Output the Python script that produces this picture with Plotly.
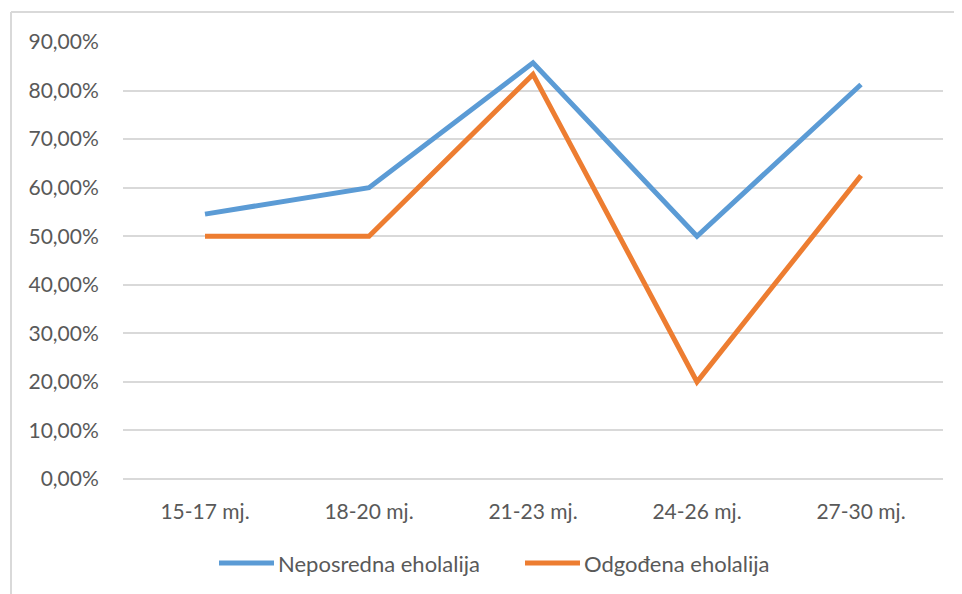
import plotly.graph_objects as go

categories = ["15-17 mj.", "18-20 mj.", "21-23 mj.", "24-26 mj.", "27-30 mj."]
neposredna = [0.5455, 0.60, 0.8571, 0.50, 0.8125]
odgodena = [0.50, 0.50, 0.8333, 0.20, 0.625]
series_names = ["Neposredna eholalija", "Odgođena eholalija"]
colors = ["#5B9BD5", "#ED7D31"]

# page has an 8px body margin; work in page pixels and convert
OFF = 8
W, H = 962 - OFF, 594 - OFF
plot_left, plot_right, plot_top, plot_bottom = 123, 943, 42, 479
L = plot_left - OFF
R = 962 - plot_right
T = plot_top - OFF
B = 594 - plot_bottom
pw, ph = plot_right - plot_left, plot_bottom - plot_top

fig = go.Figure()
for name, vals, c in zip(series_names, [neposredna, odgodena], colors):
    fig.add_trace(go.Scatter(x=categories, y=vals, mode="lines", name=name,
                             line=dict(color=c, width=5), showlegend=False))

font = dict(family="Lato, 'Open Sans', sans-serif", size=21, color="#595959")
legend_font = dict(family="Lato, 'Open Sans', sans-serif", size=22, color="#595959")

def px_x(x):
    return (x - plot_left) / pw

def px_y(y):
    return (plot_bottom - y) / ph

shapes = [
    dict(type="line", xref="paper", yref="paper", x0=px_x(11), x1=px_x(962),
         y0=px_y(12), y1=px_y(12), line=dict(color="#D9D9D9", width=2)),
    dict(type="line", xref="paper", yref="paper", x0=px_x(11), x1=px_x(11),
         y0=px_y(12), y1=px_y(600), line=dict(color="#D9D9D9", width=2)),
]
annotations = []
legend_x = [219, 525]
for name, c, lx in zip(series_names, colors, legend_x):
    shapes.append(dict(type="line", xref="paper", yref="paper", x0=px_x(lx), x1=px_x(lx + 55),
                       y0=px_y(563), y1=px_y(563), line=dict(color=c, width=5)))
    annotations.append(dict(xref="paper", yref="paper", x=px_x(lx + 57), y=px_y(563),
                            text=name, showarrow=False, xanchor="left", yanchor="middle",
                            font=legend_font))

fig.update_layout(
    width=W, height=H,
    margin=dict(l=L, r=R, t=T, b=B),
    paper_bgcolor="white", plot_bgcolor="white",
    font=font,
    separators=", ",
    showlegend=False,
    xaxis=dict(type="category", range=[-0.5, 4.5], showgrid=False, showline=False,
               zeroline=False, ticks="outside", ticklen=14, tickcolor="rgba(0,0,0,0)",
               tickfont=font, automargin=False),
    yaxis=dict(range=[0, 0.9], dtick=0.1, tick0=0, tickformat=".2%", showgrid=True,
               gridcolor="#D9D9D9", gridwidth=2, zeroline=True, zerolinecolor="#D9D9D9",
               zerolinewidth=2, showline=False,
               ticks="outside", ticklen=19, tickcolor="rgba(0,0,0,0)", tickfont=font,
               automargin=False),
    shapes=shapes,
    annotations=annotations,
)

fig.write_html("out.html")
